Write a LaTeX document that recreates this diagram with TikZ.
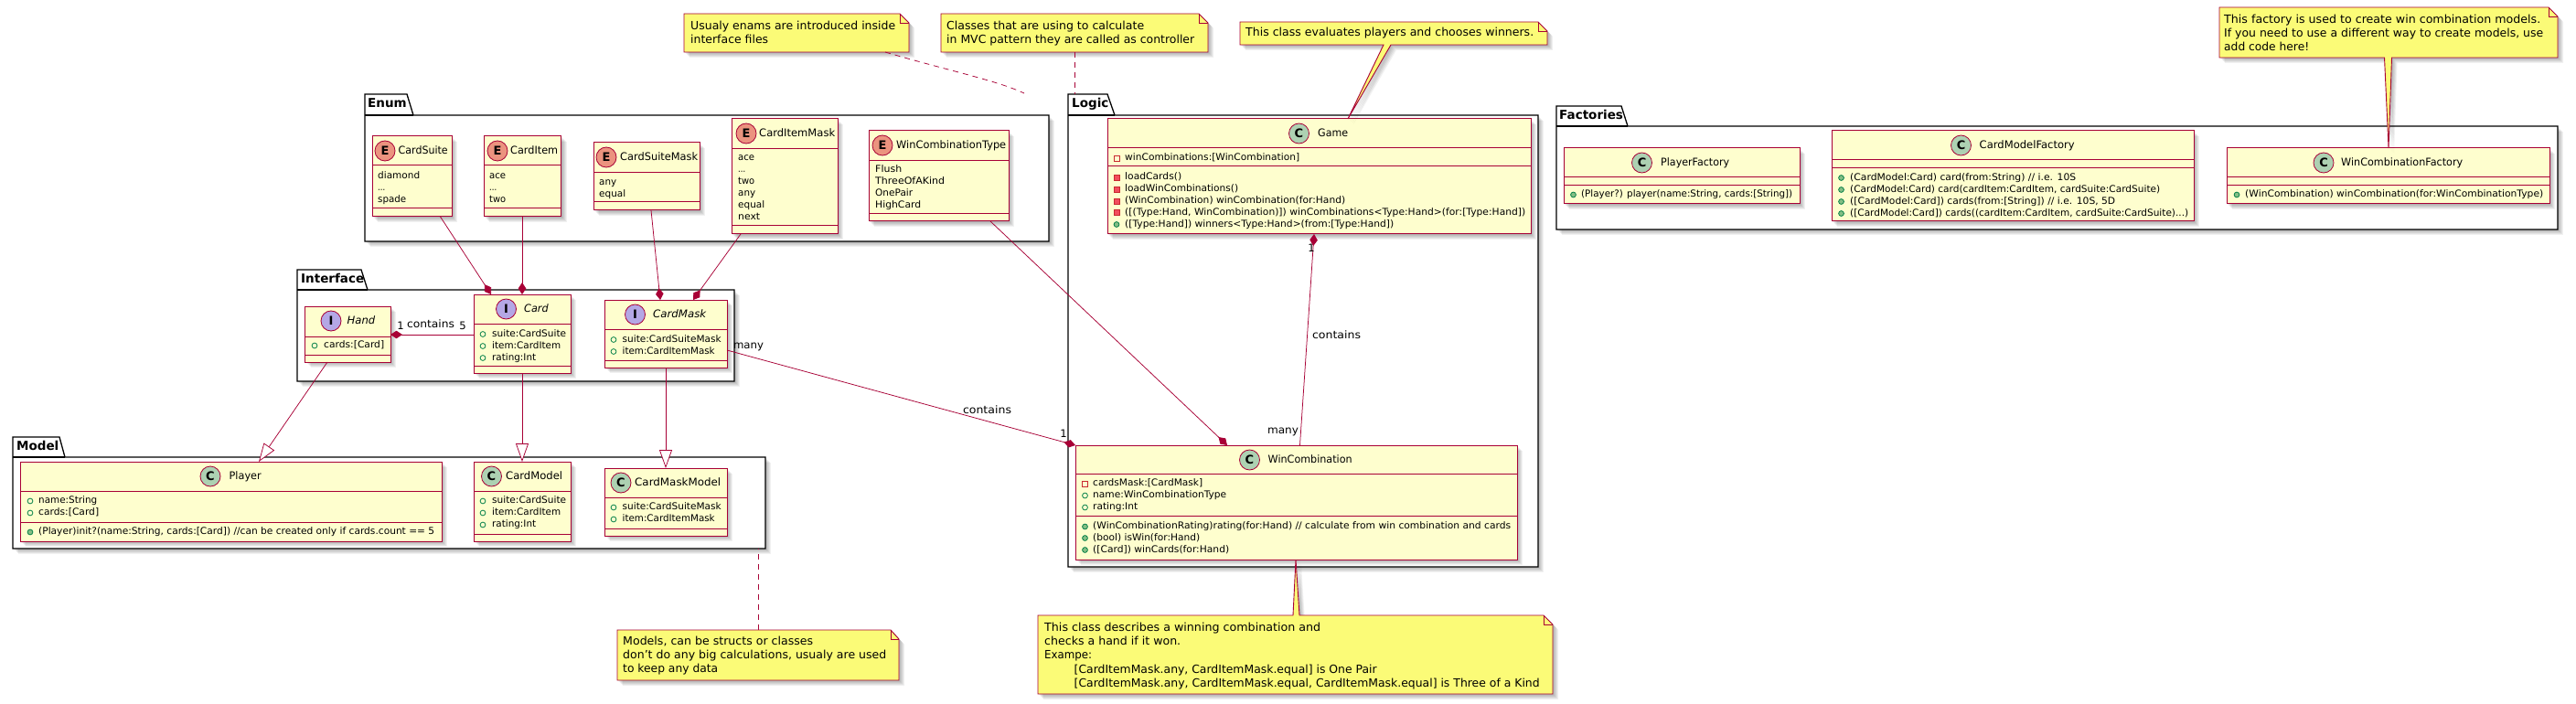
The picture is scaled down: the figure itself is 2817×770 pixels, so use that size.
\documentclass[tikz,border=0pt]{standalone}
\usepackage{fontspec}
\usepackage{graphicx}
\setmainfont{DejaVu Sans}
\usetikzlibrary{arrows.meta}
\definecolor{umlred}{HTML}{A80036}
\definecolor{classfill}{HTML}{FEFECE}
\definecolor{notefill}{HTML}{FBFB77}
\definecolor{iconC}{HTML}{ADD1B2}
\definecolor{iconE}{HTML}{EB937F}
\definecolor{iconI}{HTML}{B4A7E5}
\definecolor{publine}{HTML}{038048}
\definecolor{pubfill}{HTML}{84BE84}
\definecolor{privline}{HTML}{C82930}
\definecolor{privfill}{HTML}{F24D5C}
\newcounter{txt}
\newcommand\fw[2]{\setbox0\hbox{#2}\pgfmathsetmacro\fwr{#1/\the\wd0}\scalebox{\fwr}[1]{\box0}}
\tikzset{
  classbox/.style={draw=umlred,fill=classfill,line width=1pt,inner sep=0pt,outer sep=0pt,anchor=north west},
  sepline/.style={draw=umlred,line width=1pt},
  badge/.style={circle,draw=umlred,line width=.8pt,minimum size=22pt,inner sep=0pt,font=\fontsize{13}{13}\selectfont\bfseries},
  cname/.style={anchor=west,inner sep=0pt,text height=9pt,text depth=2.5pt,font=\fontsize{11.6}{13}\selectfont},
  attr/.style={anchor=west,inner sep=0pt,text height=8pt,text depth=2.5pt,font=\fontsize{10.4}{13}\selectfont},
  notetxt/.style={anchor=west,inner sep=0pt,text height=9pt,text depth=2.5pt,font=\fontsize{12.4}{15}\selectfont},
  notepath/.style={draw=umlred,fill=notefill,line width=.9pt,line join=miter},
  pkgpath/.style={draw=black,fill=white,line width=1.3pt,line join=miter},
  pkgtitle/.style={anchor=west,inner sep=0pt,text height=10pt,text depth=2.5pt,font=\fontsize{13.5}{15}\selectfont\bfseries},
  edgelabel/.style={inner sep=0pt,font=\fontsize{11.6}{13}\selectfont,text height=9pt,text depth=2.5pt},
  notelink/.style={draw=umlred,line width=.75pt,dash pattern=on 6pt off 5pt},
  compo/.style={{Diamond[length=13pt,width=8.5pt,fill=umlred]}-,draw=umlred,line width=.75pt},
  ocomp/.style={-{Diamond[length=13pt,width=8.5pt,fill=umlred]},draw=umlred,line width=.75pt},
  inherit/.style={-{Triangle[open,length=20pt,width=14pt,fill=white]},draw=umlred,line width=.75pt},
  shade1/.style={fill=black,fill opacity=0.055,draw=none},
}
% shadow of a closed path
\newcommand\softshadow[1]{%
  \foreach \sx/\sy in {1/1,2/2,3/3,4/4,5/5,6/6}{\fill[shade1,shift={(\sx,\sy)}] #1;}%
}
% name, x1, y1, x2, y2
\newcommand\Cbox[5]{%
  \softshadow{(#2,#3) rectangle (#4,#5)}%
  \pgfmathsetmacro\bw{#4-#2}\pgfmathsetmacro\bh{#5-#3}%
  \node[classbox,minimum width=\bw pt,minimum height=\bh pt] (#1) at (#2,#3) {};%
}
% x1,x2,y
\newcommand\Csep[3]{\draw[sepline] (#1,#3) -- (#2,#3);}
% letter, colour, cx, cy, nx, width, text
\newcommand\Chead[7]{%
  \stepcounter{txt}%
  \node[badge,fill=#2] (b\arabic{txt}) at (#3,#4) {#1};%
  \node[cname] (t\arabic{txt}) at (#5,#4) {\fw{#6}{#7}};%
}
\newcommand\Rtext[4]{\stepcounter{txt}\node[attr] (t\arabic{txt}) at (#1,#2) {\fw{#3}{#4}};}
\newcommand\RE[4]{\Rtext{#1}{#2}{#3}{#4}}
\newcommand\RF[5]{\draw[publine,line width=0.8pt] (#1,#3) circle[radius=2.9pt];\Rtext{#2}{#3}{#4}{#5}}
\newcommand\RM[5]{\draw[publine,fill=pubfill,line width=0.8pt] (#1,#3) circle[radius=2.9pt];\Rtext{#2}{#3}{#4}{#5}}
\newcommand\RPF[5]{\draw[privline,line width=0.8pt] (#1-3,#3-3) rectangle (#1+3,#3+3);\Rtext{#2}{#3}{#4}{#5}}
\newcommand\RPM[5]{\draw[privline,fill=privfill,line width=0.8pt] (#1-3,#3-3) rectangle (#1+3,#3+3);\Rtext{#2}{#3}{#4}{#5}}
\newcommand\Ntext[4]{\stepcounter{txt}\node[notetxt] (t\arabic{txt}) at (#1,#2) {\fw{#3}{#4}};}
% name,x1,top,base,x2,bottom,tabx1,tabx2
\newcommand\Pkg[8]{%
  \softshadow{(#2,#4) rectangle (#5,#6)}%
  \draw[pkgpath] (#2,#3) -- (#7,#3) -- (#8,#4) -- (#5,#4) -- (#5,#6) -- (#2,#6) -- cycle;%
  \draw[pkgpath] (#2,#4) -- (#8,#4);%
  \pgfmathsetmacro\bw{#5-#2}\pgfmathsetmacro\bh{#6-#4}%
  \node[inner sep=0pt,outer sep=0pt,anchor=north west,minimum width=\bw pt,minimum height=\bh pt] (#1) at (#2,#4) {};%
}
\newcommand\Ptitle[3]{\stepcounter{txt}\node[pkgtitle] (t\arabic{txt}) at (#1,#2) {#3};}
\begin{document}
\begin{tikzpicture}[x=1pt,y=-1pt]
\useasboundingbox (0,0) rectangle (2817,770);
\fill[white] (0,0) rectangle (2817,770);

% packages
\Pkg{enum}{399}{103}{126}{1147}{264}{445}{452}
\Ptitle{402}{114}{Enum}
\Pkg{iface}{325}{295}{317}{803}{417}{395}{402}
\Ptitle{329}{306}{Interface}
\Pkg{model}{14}{478}{500}{837}{600}{65}{71}
\Ptitle{18}{489}{Model}
\Pkg{logic}{1168}{103}{126}{1682}{620}{1211}{1219}
\Ptitle{1172}{114}{Logic}
\Pkg{fact}{1702}{116}{138}{2797}{251}{1773}{1780}
\Ptitle{1705}{127}{Factories}

% classes: Enum
\Cbox{cs}{407}{149}{494}{237}\Csep{407}{494}{181}\Csep{407}{494}{228}
\Chead{E}{iconE}{421}{165}{435.5}{54}{CardSuite}
\RE{413}{192.5}{46}{diamond}\RE{413}{205.5}{8}{...}\RE{413}{218.5}{31}{spade}

\Cbox{ci}{529}{149}{613.5}{237}\Csep{529}{613.5}{181}\Csep{529}{613.5}{228}
\Chead{E}{iconE}{544}{165}{558}{52}{CardItem}
\RE{535}{192.5}{18}{ace}\RE{535}{205.5}{8}{...}\RE{535}{218.5}{18}{two}

\Cbox{csm}{649}{156}{765}{230}\Csep{649}{765}{189}\Csep{649}{765}{221}
\Chead{E}{iconE}{663}{172}{678}{85}{CardSuiteMask}
\RE{655}{199.5}{19}{any}\RE{655}{212.5}{29}{equal}

\Cbox{cim}{800}{130}{916}{256}\Csep{800}{916}{163}\Csep{800}{916}{247}
\Chead{E}{iconE}{816}{146}{830}{83}{CardItemMask}
\RE{807}{173}{18}{ace}\RE{807}{186}{8}{...}\RE{807}{199}{18}{two}\RE{807}{212}{19}{any}\RE{807}{225}{29}{equal}\RE{807}{238}{24}{next}

\Cbox{wct}{950}{143}{1103}{242}\Csep{950}{1103}{176}\Csep{950}{1103}{234}
\Chead{E}{iconE}{965}{159}{980}{120}{WinCombinationType}
\RE{957}{186}{29}{Flush}\RE{957}{199}{76}{ThreeOfAKind}\RE{957}{212}{41}{OnePair}\RE{957}{225}{50}{HighCard}

% classes: Interface
\Cbox{hand}{333.5}{335}{427}{396}\Csep{333.5}{427}{368}\Csep{333.5}{427}{388}
\Chead{I}{iconI}{362}{351}{379.5}{30.5}{\itshape Hand}
\RF{344}{354}{378}{66}{cards:[Card]}

\Cbox{card}{518}{322}{624}{408}\Csep{518}{624}{354}\Csep{518}{624}{400}
\Chead{I}{iconI}{553.5}{338}{573}{26.5}{\itshape Card}
\RF{528}{538}{365.5}{81}{suite:CardSuite}\RF{528}{538}{378.5}{75}{item:CardItem}\RF{528}{538}{391.5}{48}{rating:Int}

\Cbox{cm}{661}{328}{795}{402}\Csep{661}{795}{360}\Csep{661}{795}{394}
\Chead{I}{iconI}{694.5}{344}{714}{58}{\itshape CardMask}
\RF{671}{680.5}{371.5}{108}{suite:CardSuiteMask}\RF{671}{680.5}{384.5}{101}{item:CardItemMask}

% classes: Model
\Cbox{player}{22}{505}{483}{592}\Csep{22}{483}{537}\Csep{22}{483}{571}
\Chead{C}{iconC}{230}{521}{250.5}{35}{Player}
\RF{33}{42}{548}{64}{name:String}\RF{33}{42}{561}{66}{cards:[Card]}
\RM{33}{42}{582}{433}{(Player)init?(name:String, cards:[Card]) //can be created only if cards.count == 5}

\Cbox{cmod}{518}{505}{624}{592}\Csep{518}{624}{537}\Csep{518}{624}{584}
\Chead{C}{iconC}{537.5}{521}{553}{62}{CardModel}
\RF{528}{538}{548}{81}{suite:CardSuite}\RF{528}{538}{561}{75}{item:CardItem}\RF{528}{538}{574}{48}{rating:Int}

\Cbox{cmm}{661}{512}{795}{586}\Csep{661}{795}{544}\Csep{661}{795}{578}
\Chead{C}{iconC}{679}{528}{694}{94}{CardMaskModel}
\RF{671}{680.5}{555}{108}{suite:CardSuiteMask}\RF{671}{680.5}{568}{101}{item:CardItemMask}

% classes: Logic
\Cbox{game}{1211}{130}{1674}{256}\Csep{1211}{1674}{162}\Csep{1211}{1674}{182}
\Chead{C}{iconC}{1420.5}{146}{1441}{33}{Game}
\RPF{1221}{1230}{173}{191}{winCombinations:[WinCombination]}
\RPM{1221}{1230}{194}{62}{loadCards()}
\RPM{1221}{1230}{207}{124}{loadWinCombinations()}
\RPM{1221}{1230}{220}{241}{(WinCombination) winCombination(for:Hand)}
\RPM{1221}{1230}{232.5}{438}{([(Type:Hand, WinCombination)]) winCombinations<Type:Hand>(for:[Type:Hand])}
\RM{1221}{1230}{245.5}{294}{([Type:Hand]) winners<Type:Hand>(from:[Type:Hand])}

\Cbox{wc}{1176}{487}{1659}{612}\Csep{1176}{1659}{518}\Csep{1176}{1659}{564}
\Chead{C}{iconC}{1366.5}{503}{1386.5}{92}{WinCombination}
\RPF{1186.5}{1195}{529}{120}{cardsMask:[CardMask]}
\RF{1186.5}{1195}{542}{146}{name:WinCombinationType}
\RF{1186.5}{1195}{555}{49}{rating:Int}
\RM{1186.5}{1195}{576}{457}{(WinCombinationRating)rating(for:Hand) // calculate from win combination and cards}
\RM{1186.5}{1195}{588.5}{117}{(bool) isWin(for:Hand)}
\RM{1186.5}{1195}{601.5}{149}{([Card]) winCards(for:Hand)}

% classes: Factories
\Cbox{pf}{1710}{162}{1968}{223}\Csep{1710}{1968}{194}\Csep{1710}{1968}{203}
\Chead{C}{iconC}{1795.5}{178}{1816}{75}{PlayerFactory}
\RM{1720.5}{1729}{213}{231}{(Player?) player(name:String, cards:[String])}

\Cbox{cmf}{2003}{143}{2399}{242}\Csep{2003}{2399}{175}\Csep{2003}{2399}{184}
\Chead{C}{iconC}{2144.5}{159}{2164.5}{104}{CardModelFactory}
\RM{2013.5}{2023}{194.5}{247}{(CardModel:Card) card(from:String) // i.e. 10S}
\RM{2013.5}{2023}{207.5}{339}{(CardModel:Card) card(cardItem:CardItem, cardSuite:CardSuite)}
\RM{2013.5}{2023}{220.5}{290}{([CardModel:Card]) cards(from:[String]) // i.e. 10S, 5D}
\RM{2013.5}{2023}{233.5}{370}{([CardModel:Card]) cards((cardItem:CardItem, cardSuite:CardSuite)...)}

\Cbox{wcf}{2435}{162}{2788}{223}\Csep{2435}{2788}{194}\Csep{2435}{2788}{203}
\Chead{C}{iconC}{2541}{178}{2560}{133}{WinCombinationFactory}
\RM{2446}{2455}{213}{326}{(WinCombination) winCombination(for:WinCombinationType)}

% connectors
\draw[ocomp] ([xshift=74.5pt]cs.south west) -- ([xshift=19pt]card.north west);
\draw[ocomp] ([xshift=42pt]ci.south west) -- ([xshift=53pt]card.north west);
\draw[ocomp] ([xshift=63pt]csm.south west) -- ([xshift=61pt]cm.north west);
\draw[ocomp] ([xshift=10pt]cim.south west) -- ([xshift=97pt]cm.north west);
\draw[ocomp] ([xshift=133pt]wct.south west) -- ([xshift=166pt]wc.north west);
\draw[ocomp] ([yshift=-55pt]cm.north east) -- (wc.north west);
\draw[compo] ([xshift=226pt]game.south west) -- ([xshift=245.5pt]wc.north west);
\draw[compo] ([yshift=-31pt]hand.north east) -- ([yshift=-44pt]card.north west);
\draw[inherit] ([xshift=24.5pt]hand.south west) -- ([xshift=261pt]player.north west);
\draw[inherit] ([xshift=53pt]card.south west) -- ([xshift=53pt]cmod.north west);
\draw[inherit] ([xshift=67pt]cm.south west) -- ([xshift=67pt]cmm.north west);

% connector labels
\node[edgelabel] (l1) at (438,357) {1};
\node[edgelabel] (l2) at (471,355) {\fw{52}{contains}};
\node[edgelabel] (l3) at (506,357) {5};
\node[edgelabel] (l4) at (818.5,378) {\fw{33}{many}};
\node[edgelabel] (l5) at (1079.5,449) {\fw{53}{contains}};
\node[edgelabel] (l6) at (1163,475) {1};
\node[edgelabel] (l7) at (1434,272) {1};
\node[edgelabel] (l8) at (1461.5,367) {\fw{53}{contains}};
\node[edgelabel] (l9) at (1403,471) {\fw{34}{many}};

% notes
\softshadow{(748,15) -- (984,15) -- (994,25) -- (994,57) -- (748,57) -- cycle}
\draw[notepath] (748,15) -- (984,15) -- (994,25) -- (994,57) -- (748,57) -- cycle;
\draw[notepath,fill=none] (984,15) -- (984,25) -- (994,25);
\node[inner sep=0pt,outer sep=0pt,minimum width=246pt,minimum height=42pt,anchor=north west] (n1) at (748,15) {};
\Ntext{755}{29}{224}{Usualy enams are introduced inside}
\Ntext{755}{44}{85}{interface files}

\softshadow{(1029,15) -- (1311,15) -- (1321,25) -- (1321,57) -- (1029,57) -- cycle}
\draw[notepath] (1029,15) -- (1311,15) -- (1321,25) -- (1321,57) -- (1029,57) -- cycle;
\draw[notepath,fill=none] (1311,15) -- (1311,25) -- (1321,25);
\node[inner sep=0pt,outer sep=0pt,minimum width=292pt,minimum height=42pt,anchor=north west] (n2) at (1029,15) {};
\Ntext{1035}{29}{216}{Classes that are using to calculate}
\Ntext{1035}{44}{271}{in MVC pattern they are called as controller}

\softshadow{(1356,24) -- (1682,24) -- (1692,34) -- (1692,49) -- (1521,49) -- (1474,130) -- (1513,49) -- (1356,49) -- cycle}
\draw[notepath] (1356,24) -- (1682,24) -- (1692,34) -- (1692,49) -- (1521,49) -- (1474,130) -- (1513,49) -- (1356,49) -- cycle;
\draw[notepath,fill=none] (1682,24) -- (1682,34) -- (1692,34);
\node[inner sep=0pt,outer sep=0pt,minimum width=336pt,minimum height=25pt,anchor=north west] (n3) at (1356,24) {};
\Ntext{1362}{36.5}{315}{This class evaluates players and chooses winners.}

\softshadow{(2427,8) -- (2787,8) -- (2797,18) -- (2797,63) -- (2615.5,63) -- (2612,162) -- (2607.5,63) -- (2427,63) -- cycle}
\draw[notepath] (2427,8) -- (2787,8) -- (2797,18) -- (2797,63) -- (2615.5,63) -- (2612,162) -- (2607.5,63) -- (2427,63) -- cycle;
\draw[notepath,fill=none] (2787,8) -- (2787,18) -- (2797,18);
\node[inner sep=0pt,outer sep=0pt,minimum width=370pt,minimum height=55pt,anchor=north west] (n4) at (2427,8) {};
\Ntext{2432}{22}{346}{This factory is used to create win combination models.}
\Ntext{2432}{37}{349}{If you need to use a different way to create models, use}
\Ntext{2432}{52}{93}{add code here!}

\softshadow{(675,689) -- (974,689) -- (983,699) -- (983,744) -- (675,744) -- cycle}
\draw[notepath] (675,689) -- (974,689) -- (983,699) -- (983,744) -- (675,744) -- cycle;
\draw[notepath,fill=none] (974,689) -- (974,699) -- (983,699);
\node[inner sep=0pt,outer sep=0pt,minimum width=308pt,minimum height=55pt,anchor=north west] (n5) at (675,689) {};
\Ntext{681}{702}{208}{Models, can be structs or classes}
\Ntext{681}{717}{288}{don't do any big calculations, usualy are used}
\Ntext{681}{732.5}{104}{to keep any data}

\softshadow{(1135,673) -- (1414,673) -- (1417,612) -- (1421,673) -- (1688,673) -- (1698,683) -- (1698,759) -- (1135,759) -- cycle}
\draw[notepath] (1135,673) -- (1414,673) -- (1417,612) -- (1421,673) -- (1688,673) -- (1698,683) -- (1698,759) -- (1135,759) -- cycle;
\draw[notepath,fill=none] (1688,673) -- (1688,683) -- (1698,683);
\node[inner sep=0pt,outer sep=0pt,minimum width=563pt,minimum height=86pt,anchor=north west] (n6) at (1135,673) {};
\Ntext{1142}{687}{302}{This class describes a winning combination and}
\Ntext{1142}{702}{149}{checks a hand if it won.}
\Ntext{1142}{717}{52}{Exampe:}
\Ntext{1174.5}{733}{331}{[CardItemMask.any, CardItemMask.equal] is One Pair}
\Ntext{1174.5}{748}{509}{[CardItemMask.any, CardItemMask.equal, CardItemMask.equal] is Three of a Kind}

% note links
\coordinate (n1end) at (1120,102);
\draw[notelink] ([xshift=220pt]n1.south west) .. controls (1040,78) and (1090,88) .. (n1end);
\draw[notelink] ([xshift=146pt]n2.south west) -- ([xshift=7pt]logic.north west |- 0,103);
\draw[notelink] ([xshift=154pt]n5.north west) -- ([xshift=815pt]model.south west);
\end{tikzpicture}
\end{document}
